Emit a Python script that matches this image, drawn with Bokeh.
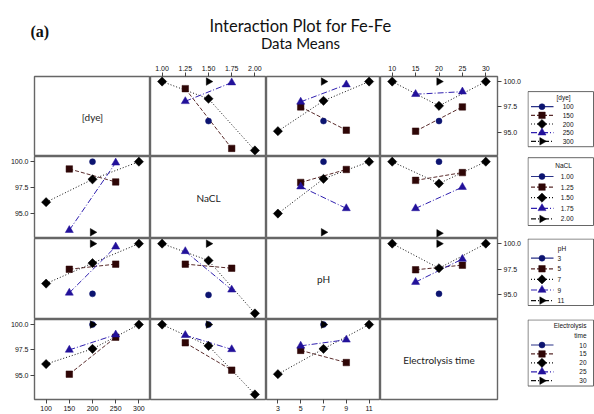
import math
from bokeh.plotting import figure
from bokeh.layouts import column, row
from bokeh.models import Range1d, LinearAxis, FixedTicker, Label, NumeralTickFormatter
from bokeh.embed import file_html
from bokeh.resources import INLINE

# ---------------- data ----------------
FACTOR_NAMES = ["[dye]", "NaCL", "pH", "Electrolysis time"]
DYE_LEVELS = [100, 150, 200, 250, 300]
NACL_LEVELS = [1.00, 1.25, 1.50, 1.75, 2.00]
PH_LEVELS = [3, 5, 7, 9, 11]
TIME_LEVELS = [10, 15, 20, 25, 30]
DYE_LABELS = ["100", "150", "200", "250", "300"]
NACL_LABELS = ["1.00", "1.25", "1.50", "1.75", "2.00"]
PH_LABELS = ["3", "5", "7", "9", "11"]
TIME_LABELS = ["10", "15", "20", "25", "30"]
Y_TICKS = [95.0, 97.5, 100.0]

# mean response for each pair of factor levels
DYE_NACL_DYE = [100, 300, 200, 200, 200, 150, 150, 250, 250]
DYE_NACL_NACL = [1.50, 1.50, 1.00, 2.00, 1.50, 1.25, 1.75, 1.25, 1.75]
DYE_NACL_MEAN = [96.1, 100.0, 100.0, 93.2, 98.3, 99.3, 93.4, 98.05, 99.9]

DYE_PH_DYE = [100, 300, 200, 200, 200, 150, 150, 250, 250]
DYE_PH_PH = [7, 7, 3, 11, 7, 5, 9, 5, 9]
DYE_PH_MEAN = [96.1, 100.0, 95.1, 100.0, 98.1, 97.5, 95.2, 98.0, 99.7]

DYE_TIME_DYE = [100, 300, 200, 200, 200, 150, 150, 250, 250]
DYE_TIME_TIME = [20, 20, 10, 30, 20, 15, 25, 15, 25]
DYE_TIME_MEAN = [96.1, 100.0, 100.0, 100.0, 97.6, 95.1, 97.5, 98.75, 99.0]

NACL_PH_NACL = [1.00, 2.00, 1.50, 1.50, 1.50, 1.25, 1.25, 1.75, 1.75]
NACL_PH_PH = [7, 7, 3, 11, 7, 5, 9, 5, 9]
NACL_PH_MEAN = [100.0, 93.2, 95.0, 100.0, 98.35, 98.0, 99.25, 97.6, 95.5]

NACL_TIME_NACL = [1.00, 2.00, 1.50, 1.50, 1.50, 1.25, 1.25, 1.75, 1.75]
NACL_TIME_TIME = [20, 20, 10, 30, 20, 15, 25, 15, 25]
NACL_TIME_MEAN = [100.0, 93.1, 100.0, 100.0, 97.9, 98.2, 98.95, 95.5, 97.55]

PH_TIME_PH = [3, 11, 7, 7, 7, 5, 5, 9, 9]
PH_TIME_TIME = [20, 20, 10, 30, 20, 15, 25, 15, 25]
PH_TIME_MEAN = [95.1, 100.0, 100.0, 100.0, 97.6, 97.45, 97.9, 96.25, 98.5]

LEVELS = [DYE_LEVELS, NACL_LEVELS, PH_LEVELS, TIME_LEVELS]
LEVEL_LABELS = [DYE_LABELS, NACL_LABELS, PH_LABELS, TIME_LABELS]
PAIRS = {
    (0, 1): (DYE_NACL_DYE, DYE_NACL_NACL, DYE_NACL_MEAN),
    (0, 2): (DYE_PH_DYE, DYE_PH_PH, DYE_PH_MEAN),
    (0, 3): (DYE_TIME_DYE, DYE_TIME_TIME, DYE_TIME_MEAN),
    (1, 2): (NACL_PH_NACL, NACL_PH_PH, NACL_PH_MEAN),
    (1, 3): (NACL_TIME_NACL, NACL_TIME_TIME, NACL_TIME_MEAN),
    (2, 3): (PH_TIME_PH, PH_TIME_TIME, PH_TIME_MEAN),
}

# ---------------- styling ----------------
X_RANGES = [(75, 325), (0.875, 2.125), (2, 12), (7.5, 32.5)]
X_FORMATS = ["0", "0.00", "0", "0"]
Y_RANGE = (92.6, 100.5)
FILL = ["#0c1470", "#2e0606", "#000000", "#22119a", "#000000"]
LINE = ["#2a3288", "#5a2c2c", "#111111", "#3020b0", "#111111"]
DASH = ["solid", "4 2", "1 2", "6 2 1 2", "5 2 1 2 1 2"]
MARK = ["circle", "square", "square", "triangle", "triangle"]
ANGLE = [0, 0, math.pi / 4, 0, -math.pi / 2]
SIZE = [6, 6.5, 6.5, 8, 7.5]

GRID_COLOR = "#666666"
TICK_FONT = "Liberation Sans"
TICK_SIZE = "7px"
COL_W = [116, 116, 114, 117]
ROW_H = [80, 82, 81, 80]
LEFT_B, RIGHT_B, TOP_B, BOT_B = 34, 30, 18, 15
TITLE_H, LEG_W = 58, 67


def blank(p):
    p.xgrid.visible = False
    p.ygrid.visible = False
    p.background_fill_color = "white"
    p.border_fill_color = "white"


def style_axis(ax):
    ax.axis_line_color = None
    ax.major_tick_in = 0
    ax.major_tick_out = 4
    ax.minor_tick_line_color = None
    ax.major_tick_line_color = "#444444"
    ax.major_label_text_font = TICK_FONT
    ax.major_label_text_font_size = TICK_SIZE
    ax.major_label_text_color = "#111111"
    ax.major_label_standoff = 2


def make_cell(r, c):
    left = LEFT_B if c == 0 else 0
    right = RIGHT_B if c == 3 else 0
    top = TOP_B if r == 0 else 0
    bottom = BOT_B if r == 3 else 0
    p = figure(width=COL_W[c] + left + right, height=ROW_H[r] + top + bottom,
               x_range=Range1d(*X_RANGES[c]), y_range=Range1d(*Y_RANGE),
               toolbar_location=None, output_backend="svg",
               x_axis_location=None, y_axis_location=None)
    blank(p)
    p.min_border_left, p.min_border_right = left, right
    p.min_border_top, p.min_border_bottom = top, bottom
    p.outline_line_color = GRID_COLOR
    p.outline_line_width = 1.4

    if r == c:
        xr = X_RANGES[c]
        p.add_layout(Label(x=(xr[0] + xr[1]) / 2, y=(Y_RANGE[0] + Y_RANGE[1]) / 2,
                           text=FACTOR_NAMES[r], text_align="center",
                           text_baseline="middle", text_font="Lato",
                           text_font_size="10px", text_color="#222222"))
    else:
        a, b = (r, c) if r < c else (c, r)
        A, B, M = PAIRS[(a, b)]
        series = A if r < c else B
        xs_all = B if r < c else A
        groups = []
        for k, lev in enumerate(LEVELS[r]):
            pts = sorted((x, y) for s, x, y in zip(series, xs_all, M) if s == lev)
            groups.append(pts)
        for k, pts in enumerate(groups):
            if len(pts) > 1:
                p.line([q[0] for q in pts], [q[1] for q in pts], line_color=LINE[k],
                       line_width=1, line_dash=DASH[k])
        for k, pts in enumerate(groups):
            if pts:
                p.scatter([q[0] for q in pts], [q[1] for q in pts], marker=MARK[k],
                          size=SIZE[k], angle=ANGLE[k], fill_color=FILL[k],
                          line_color=FILL[k], line_width=0.5)

    if r == 0 and c in (1, 3):
        ax = LinearAxis(ticker=FixedTicker(ticks=LEVELS[c]),
                        formatter=NumeralTickFormatter(format=X_FORMATS[c]))
        style_axis(ax)
        p.add_layout(ax, "above")
    if r == 3 and c in (0, 2):
        ax = LinearAxis(ticker=FixedTicker(ticks=LEVELS[c]),
                        formatter=NumeralTickFormatter(format=X_FORMATS[c]))
        style_axis(ax)
        p.add_layout(ax, "below")
    if c == 0 and r in (1, 3):
        ax = LinearAxis(ticker=FixedTicker(ticks=Y_TICKS),
                        formatter=NumeralTickFormatter(format="0.0"))
        style_axis(ax)
        p.add_layout(ax, "left")
    if c == 3 and r in (0, 2):
        ax = LinearAxis(ticker=FixedTicker(ticks=Y_TICKS),
                        formatter=NumeralTickFormatter(format="0.0"))
        style_axis(ax)
        p.add_layout(ax, "right")
    return p


# legend layout (pixels inside each legend panel, y from top)
LEG_BOX = [(18, 86), (0.7, 69), (0, 67), (0, 79)]
LEG_TITLE_LINES = [["[dye]"], ["NaCL"], ["pH"], ["Electrolysis", "time"]]
LEG_TITLE_Y = [[26.3], [9], [9.7], [7.7, 19.5]]
LEG_TITLE_X = [36, 36, 34.5, 59]
LEG_TITLE_ALIGN = ["center", "center", "center", "right"]
LEG_FIRST = [37, 20, 19.7, 30.3]
LEG_LABEL_X = [46, 46, 30, 59]
LEG_LABEL_ALIGN = ["right", "right", "left", "right"]
LEG_STEP = 10.6


def make_legend(r):
    top = TOP_B if r == 0 else 0
    bottom = BOT_B if r == 3 else 0
    h = ROW_H[r] + top + bottom
    p = figure(width=LEG_W, height=h, x_range=Range1d(0, LEG_W), y_range=Range1d(h, 0),
               toolbar_location=None, output_backend="svg",
               x_axis_location=None, y_axis_location=None)
    blank(p)
    p.min_border = 0
    p.min_border_left = p.min_border_right = p.min_border_top = p.min_border_bottom = 0
    p.outline_line_color = None
    y0, y1 = LEG_BOX[r]
    p.quad(left=0.5, right=66, top=y0 + 0.5, bottom=y1, fill_color=None,
           line_color=GRID_COLOR, line_width=1)
    for txt, ty in zip(LEG_TITLE_LINES[r], LEG_TITLE_Y[r]):
        p.add_layout(Label(x=LEG_TITLE_X[r], y=ty, text=txt, text_align=LEG_TITLE_ALIGN[r],
                           text_baseline="middle", text_font=TICK_FONT,
                           text_font_size="6.5px", text_color="#111111"))
    for k, lab in enumerate(LEVEL_LABELS[r]):
        yy = LEG_FIRST[r] + k * LEG_STEP
        p.line([3.5, 26], [yy, yy], line_color=LINE[k], line_width=1.2, line_dash=DASH[k])
        p.scatter([14.5], [yy], marker=MARK[k], size=SIZE[k], angle=ANGLE[k],
                  fill_color=FILL[k], line_color=FILL[k], line_width=0.5)
        p.add_layout(Label(x=LEG_LABEL_X[r], y=yy, text=lab, text_align=LEG_LABEL_ALIGN[r],
                           text_baseline="middle", text_font=TICK_FONT,
                           text_font_size="6.5px", text_color="#111111"))
    return p


# title panel
title = figure(width=594, height=TITLE_H, x_range=Range1d(0, 594), y_range=Range1d(TITLE_H, 0),
               toolbar_location=None, output_backend="svg",
               x_axis_location=None, y_axis_location=None)
blank(title)
title.min_border = 0
title.min_border_left = title.min_border_right = title.min_border_top = title.min_border_bottom = 0
title.outline_line_color = None
title.add_layout(Label(x=300, y=25, text="Interaction Plot for Fe-Fe", text_align="center",
                       text_baseline="alphabetic", text_font="Lato", text_font_size="16.5px",
                       text_color="#111111"))
title.add_layout(Label(x=300, y=42, text="Data Means", text_align="center",
                       text_baseline="alphabetic", text_font="Lato", text_font_size="15px",
                       text_color="#111111"))
title.add_layout(Label(x=30, y=31, text="(a)", text_align="left",
                       text_baseline="alphabetic", text_font="Liberation Serif",
                       text_font_style="bold", text_font_size="16px", text_color="#111111"))

rows = [title]
for r in range(4):
    rows.append(row([make_cell(r, c) for c in range(4)] + [make_legend(r)], spacing=0))
layout = column(rows, spacing=0)

open("out.html", "w").write(file_html(layout, INLINE))
